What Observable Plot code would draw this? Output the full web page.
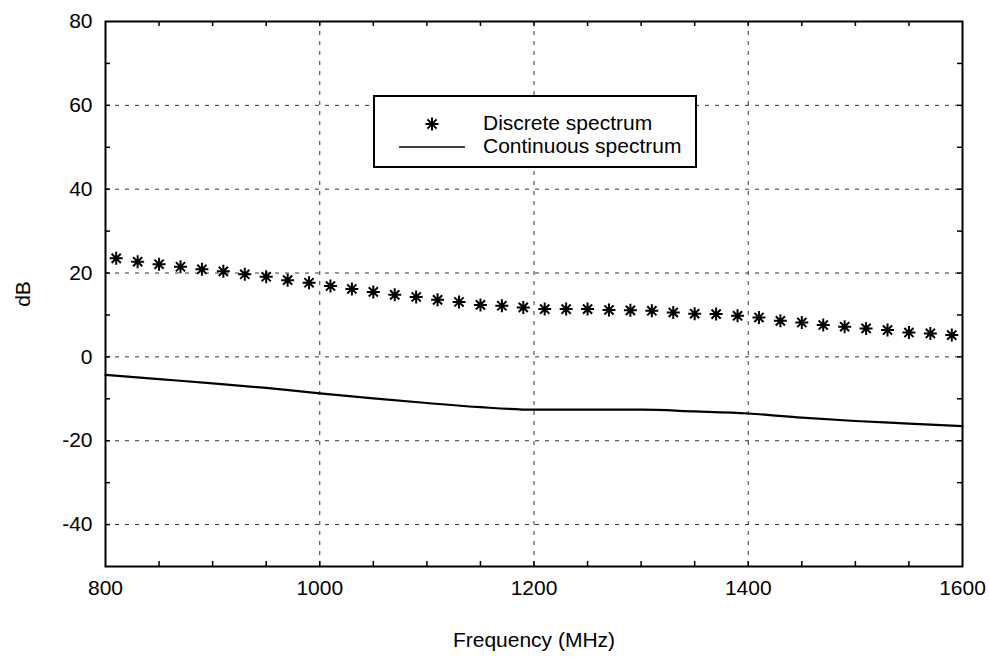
<!DOCTYPE html>
<html><head><meta charset="utf-8">
<script src="https://cdn.jsdelivr.net/npm/d3@7"></script>
<script src="https://cdn.jsdelivr.net/npm/@observablehq/plot@0.6"></script>
<style>
body{margin:0;background:#fff;font-family:"Liberation Sans",Arial,sans-serif;}
#wrap{position:relative;width:989px;height:661px;}
#legend{position:absolute;left:373px;top:95px;width:320px;height:69px;border:2px solid #000;background:#fff;font-size:21px;color:#000;}
#legend svg{position:absolute;left:0;top:0;}
#legend .t{position:absolute;left:108px;line-height:21px;white-space:nowrap;}
</style></head>
<body><div id="wrap"><div id="legend">
<svg width="110" height="70"><path d="M57,20.5V33.5M50.5,27H63.5M52.4,22.4L61.6,31.6M52.4,31.6L61.6,22.4" stroke="#000" stroke-width="2" fill="none"/><line x1="24" x2="90" y1="50" y2="50" stroke="#000" stroke-width="1.6"/></svg>
<div class="t" style="top:15px">Discrete spectrum</div>
<div class="t" style="top:38px">Continuous spectrum</div>
</div></div>
<script>
const discreteFreq = [810,830,850,870,890,910,930,950,970,990,1010,1030,1050,1070,1090,1110,1130,1150,1170,1190,1210,1230,1250,1270,1290,1310,1330,1350,1370,1390,1410,1430,1450,1470,1490,1510,1530,1550,1570,1590];
const discreteDb = [23.5,22.7,22.1,21.5,20.9,20.4,19.7,19.1,18.3,17.7,16.9,16.2,15.5,14.8,14.3,13.6,13.1,12.4,12.2,11.8,11.4,11.4,11.4,11.2,11.1,11.0,10.6,10.3,10.2,9.8,9.4,8.6,8.2,7.6,7.2,6.8,6.4,5.8,5.6,5.2];
const contFreq = [800,850,900,950,1000,1050,1100,1150,1200,1250,1300,1350,1400,1450,1500,1550,1600];
const contDb = [-4.3,-5.3,-6.3,-7.4,-8.7,-9.9,-11.0,-12.0,-12.6,-12.6,-12.6,-13.0,-13.5,-14.5,-15.3,-15.9,-16.5];
const xTickLabels = [800,1000,1200,1400,1600];
const yTickLabels = [-40,-20,0,20,40,60,80];
const xGrid = [1000,1200,1400];
const yGrid = [-40,-20,0,20,40,60];
const xMinor = [850,900,950,1000,1050,1100,1150,1200,1250,1300,1350,1400,1450,1500,1550];
const yMinor = [-40,-30,-20,-10,0,10,20,30,40,50,60,70];

const discrete = discreteFreq.map((f,i)=>({f, db: discreteDb[i]}));
const cont = contFreq.map((f,i)=>({f, db: contDb[i]}));

const asterisk8 = {
  draw(ctx, size){
    const r = Math.sqrt(size/Math.PI);
    const d = r*0.707;
    ctx.moveTo(0,-r); ctx.lineTo(0,r);
    ctx.moveTo(-r,0); ctx.lineTo(r,0);
    ctx.moveTo(-d,-d); ctx.lineTo(d,d);
    ctx.moveTo(-d,d); ctx.lineTo(d,-d);
  }
};

const W = 989, H = 661, mL = 105, mR = 27, mT = 21, mB = 95;
const ph = H - mT - mB, pw = W - mL - mR;

const chart = Plot.plot({
  width: W, height: H,
  marginLeft: mL, marginRight: mR, marginTop: mT, marginBottom: mB,
  style: {fontFamily: '"Liberation Sans", Arial, sans-serif', fontSize: "21px", color: "#000", background: "#fff"},
  x: {domain: [800,1600]},
  y: {domain: [-50,80]},
  marks: [
    Plot.ruleX(xGrid, {x: d=>d, stroke: "#333", strokeWidth: 1, strokeDasharray: "4,6"}),
    Plot.ruleY(yGrid, {y: d=>d, stroke: "#333", strokeWidth: 1, strokeDasharray: "4,6"}),
    Plot.tickX(xMinor, {x: d=>d, insetTop: ph-5, stroke: "#000", strokeWidth: 1.5}),
    Plot.tickX(xMinor, {x: d=>d, insetBottom: ph-5, stroke: "#000", strokeWidth: 1.5}),
    Plot.tickY(yMinor, {y: d=>d, insetRight: pw-5, stroke: "#000", strokeWidth: 1.5}),
    Plot.tickY(yMinor, {y: d=>d, insetLeft: pw-5, stroke: "#000", strokeWidth: 1.5}),
    Plot.line(cont, {x: "f", y: "db", stroke: "#000", strokeWidth: 2.2, curve: "monotone-x"}),
    Plot.dot(discrete, {x: "f", y: "db", symbol: asterisk8, r: 6.5, stroke: "#000", strokeWidth: 2}),
    Plot.frame({stroke: "#000", strokeWidth: 2}),
    Plot.axisX({ticks: xTickLabels, tickSize: 0, tickPadding: 14, tickFormat: d=>String(d), fontSize: 21,
      label: "Frequency (MHz)", labelAnchor: "center", labelArrow: "none", labelOffset: 80}),
    Plot.axisY({ticks: yTickLabels, tickSize: 0, tickPadding: 13, tickFormat: d=>String(d), fontSize: 21,
      label: "dB", labelAnchor: "center", labelArrow: "none", labelOffset: 90})
  ]
});
document.getElementById("wrap").prepend(chart);
</script>
</body></html>
